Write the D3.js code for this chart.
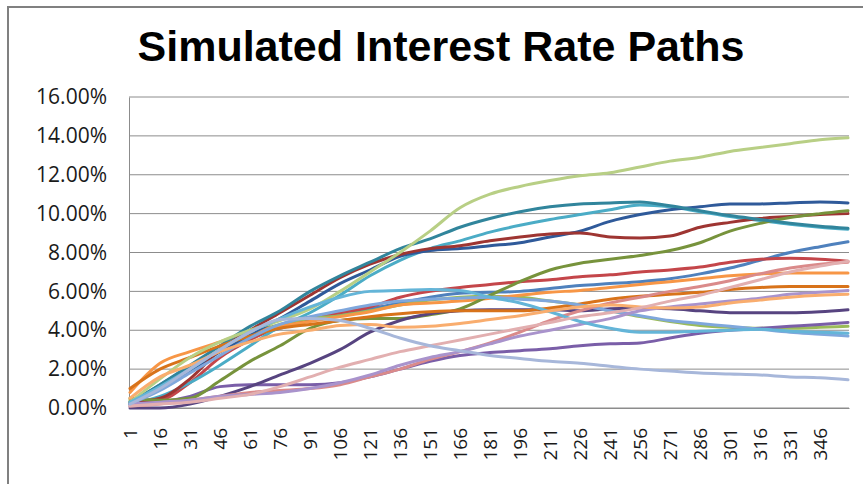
<!DOCTYPE html>
<html>
<head>
<meta charset="utf-8">
<script src="https://cdn.jsdelivr.net/npm/d3@7"></script>
<style>
  body { margin: 0; background: #fff; }
  svg { display: block; }
</style>
</head>
<body>
<svg id="chart" width="863" height="484"></svg>
<script>
const periods = [1, 16, 31, 46, 61, 76, 91, 106, 121, 136, 151, 166, 181, 196, 211, 226, 241, 256, 271, 286, 301, 316, 331, 346, 360];

// rate paths in percent, one value per period above
const lightGreen   = [0.3, 1.5, 2.6, 3.4, 4.0, 4.5, 5.1, 6.0, 7.0, 8.0, 9.1, 10.3, 11.0, 11.4, 11.7, 11.95, 12.1, 12.4, 12.7, 12.9, 13.2, 13.4, 13.6, 13.8, 13.9];
const teal         = [0.3, 1.2, 2.2, 3.2, 4.2, 5.0, 6.0, 6.8, 7.5, 8.2, 8.7, 9.3, 9.75, 10.1, 10.35, 10.5, 10.55, 10.6, 10.4, 10.15, 9.9, 9.7, 9.5, 9.35, 9.25];
const darkRed      = [0.3, 0.5, 1.5, 3.0, 4.0, 4.9, 5.8, 6.7, 7.4, 7.9, 8.2, 8.35, 8.6, 8.8, 8.95, 9.0, 8.8, 8.75, 8.85, 9.3, 9.55, 9.75, 9.85, 9.95, 10.0];
const darkBlue     = [0.2, 1.0, 1.9, 2.9, 3.8, 4.6, 5.5, 6.4, 7.1, 7.8, 8.1, 8.2, 8.35, 8.5, 8.8, 9.1, 9.6, 9.95, 10.2, 10.35, 10.5, 10.5, 10.55, 10.6, 10.55];
const aqua         = [0.2, 0.6, 1.3, 2.2, 3.2, 4.2, 4.9, 5.8, 6.8, 7.6, 8.2, 8.6, 9.05, 9.4, 9.7, 9.95, 10.2, 10.45, 10.35, 10.1, 9.85, 9.65, 9.45, 9.3, 9.2];
const green        = [0.4, 1.0, 2.0, 3.0, 3.8, 4.3, 4.6, 4.75, 5.0, 5.3, 5.55, 5.7, 5.75, 5.7, 5.5, 5.3, 5.0, 4.7, 4.45, 4.25, 4.15, 4.1, 4.1, 4.15, 4.2];
const olive        = [0.5, 0.4, 0.5, 1.4, 2.4, 3.2, 4.1, 4.5, 4.6, 4.6, 4.8, 5.1, 5.8, 6.5, 7.1, 7.45, 7.65, 7.85, 8.1, 8.5, 9.1, 9.5, 9.8, 10.0, 10.15];
const orange       = [0.8, 2.3, 2.9, 3.4, 3.9, 4.2, 4.45, 4.7, 4.95, 5.3, 5.4, 5.5, 5.65, 5.8, 5.95, 6.05, 6.2, 6.35, 6.5, 6.65, 6.8, 6.9, 6.95, 6.95, 6.95];
const darkOrange   = [1.0, 2.0, 2.6, 3.2, 3.7, 4.1, 4.3, 4.5, 4.7, 4.85, 4.95, 5.0, 5.0, 5.0, 5.15, 5.35, 5.6, 5.75, 5.85, 5.95, 6.1, 6.2, 6.25, 6.25, 6.25];
const lightOrange  = [0.5, 1.6, 2.2, 2.9, 3.4, 3.8, 4.0, 4.25, 4.3, 4.15, 4.2, 4.35, 4.55, 4.75, 5.0, 5.2, 5.3, 5.2, 5.15, 5.2, 5.4, 5.55, 5.7, 5.8, 5.85];
const red          = [0.3, 0.4, 1.3, 2.6, 3.5, 4.2, 4.6, 4.9, 5.2, 5.7, 6.0, 6.2, 6.35, 6.5, 6.6, 6.75, 6.85, 7.0, 7.1, 7.25, 7.5, 7.65, 7.7, 7.65, 7.55];
const blue         = [0.2, 1.2, 2.1, 2.9, 3.6, 4.1, 4.5, 4.85, 5.1, 5.4, 5.7, 5.9, 5.95, 6.0, 6.15, 6.3, 6.4, 6.5, 6.65, 6.9, 7.2, 7.6, 8.0, 8.3, 8.55];
const sky          = [0.3, 1.1, 2.0, 3.0, 3.9, 4.6, 5.2, 5.7, 6.0, 6.05, 6.1, 6.05, 5.7, 5.4, 4.95, 4.45, 4.1, 3.9, 3.9, 3.95, 4.0, 4.05, 3.95, 3.9, 3.85];
const lightBlue    = [0.2, 0.9, 1.8, 2.7, 3.6, 4.3, 4.7, 5.0, 5.3, 5.5, 5.6, 5.65, 5.7, 5.6, 5.5, 5.3, 5.0, 4.75, 4.5, 4.35, 4.2, 4.05, 3.9, 3.8, 3.7];
const lavenderBlue = [0.2, 1.0, 2.0, 3.0, 3.9, 4.55, 4.6, 4.5, 4.1, 3.6, 3.2, 2.95, 2.7, 2.55, 2.4, 2.3, 2.15, 2.0, 1.9, 1.8, 1.75, 1.7, 1.6, 1.55, 1.45];
const darkPurple   = [0.0, 0.0, 0.2, 0.6, 1.1, 1.7, 2.3, 3.0, 3.9, 4.5, 4.85, 5.0, 5.05, 5.05, 5.05, 5.0, 5.1, 5.15, 5.1, 5.0, 4.9, 4.9, 4.9, 4.95, 5.05];
const purple       = [0.1, 0.3, 0.6, 1.1, 1.2, 1.2, 1.2, 1.3, 1.6, 2.0, 2.4, 2.7, 2.85, 2.95, 3.05, 3.2, 3.3, 3.35, 3.6, 3.85, 4.0, 4.1, 4.2, 4.3, 4.4];
const lavender     = [0.2, 0.3, 0.4, 0.6, 0.7, 0.8, 1.0, 1.3, 1.7, 2.2, 2.6, 2.9, 3.3, 3.7, 4.0, 4.3, 4.6, 5.0, 5.2, 5.35, 5.5, 5.65, 5.85, 5.95, 6.05];
const salmon       = [0.1, 0.2, 0.4, 0.6, 0.8, 0.9, 1.0, 1.2, 1.6, 2.0, 2.5, 2.9, 3.35, 3.9, 4.5, 5.0, 5.4, 5.7, 6.0, 6.25, 6.55, 6.9, 7.2, 7.4, 7.5];
const pink         = [0.1, 0.2, 0.3, 0.5, 0.7, 1.1, 1.6, 2.1, 2.5, 2.9, 3.2, 3.5, 3.8, 4.1, 4.4, 4.7, 4.9, 5.15, 5.5, 5.8, 6.2, 6.6, 7.0, 7.3, 7.55];

const xTicks = [1, 16, 31, 46, 61, 76, 91, 106, 121, 136, 151, 166, 181, 196, 211, 226, 241, 256, 271, 286, 301, 316, 331, 346];
const yTicks = [0, 2, 4, 6, 8, 10, 12, 14, 16];

const series = [
  { values: blue,         color: "#4f81bd" },
  { values: red,          color: "#c4464a" },
  { values: green,        color: "#9bbb59" },
  { values: purple,       color: "#7a5ea8" },
  { values: aqua,         color: "#4bacc6" },
  { values: orange,       color: "#f79646" },
  { values: darkBlue,     color: "#2f5a9a" },
  { values: darkRed,      color: "#9e3532" },
  { values: olive,        color: "#77933c" },
  { values: darkPurple,   color: "#574480" },
  { values: teal,         color: "#31859c" },
  { values: darkOrange,   color: "#d8731a" },
  { values: lightBlue,    color: "#7fa7dc" },
  { values: salmon,       color: "#da8a8a" },
  { values: lightGreen,   color: "#b8cf85" },
  { values: lavender,     color: "#a993cc" },
  { values: sky,          color: "#64b5d8" },
  { values: lightOrange,  color: "#f9ad6e" },
  { values: pink,         color: "#e2afb0" },
  { values: lavenderBlue, color: "#a7b7da" }
];

const svg = d3.select("#chart");
const margin = { left: 129, right: 14, top: 97, bottom: 76 };
const W = 863, H = 484;

// outer frame
svg.append("rect")
  .attr("x", 8).attr("y", 7)
  .attr("width", 900).attr("height", 500)
  .attr("fill", "#fff")
  .attr("stroke", "#808080")
  .attr("stroke-width", 2);

svg.append("text")
  .attr("x", 441).attr("y", 61)
  .attr("text-anchor", "middle")
  .attr("font-family", "'Liberation Sans', Arial, sans-serif")
  .attr("font-weight", "bold")
  .attr("font-size", "43px")
  .attr("fill", "#000")
  .text("Simulated Interest Rate Paths");

const x = d3.scaleLinear()
  .domain([0.5, 360.5])
  .range([margin.left, W - margin.right]);

const y = d3.scaleLinear()
  .domain([0, 16])
  .range([H - margin.bottom, margin.top]);

// gridlines
svg.append("g")
  .selectAll("line")
  .data(yTicks)
  .join("line")
  .attr("x1", margin.left).attr("x2", W - margin.right)
  .attr("y1", d => y(d)).attr("y2", d => y(d))
  .attr("stroke", "#8c8c8c")
  .attr("stroke-width", 1);

// y axis
const yAxis = svg.append("g")
  .attr("transform", `translate(${margin.left},0)`)
  .call(d3.axisLeft(y).tickValues(yTicks).tickSize(0).tickPadding(22)
    .tickFormat(d => d.toFixed(2) + "%"));
yAxis.select(".domain").attr("stroke", "#8c8c8c");
yAxis.selectAll("text")
  .attr("font-family", "'Open Sans', sans-serif")
  .attr("font-size", "21px")
  .attr("fill", "#1a1a1a");

// x axis
const xAxis = svg.append("g")
  .attr("transform", `translate(0,${H - margin.bottom})`)
  .call(d3.axisBottom(x).tickValues(xTicks).tickSize(0).tickFormat(d => d));
xAxis.select(".domain").attr("stroke", "#8c8c8c");
xAxis.selectAll("text")
  .attr("font-family", "'Open Sans', sans-serif")
  .attr("font-size", "19px")
  .attr("fill", "#1a1a1a")
  .attr("text-anchor", "end")
  .attr("transform", "rotate(-90)")
  .attr("x", -20)
  .attr("y", 0)
  .attr("dy", "0.35em");

// paths
const line = d3.line()
  .x((d, i) => x(periods[i]))
  .y(d => y(d))
  .curve(d3.curveMonotoneX);

svg.append("g")
  .selectAll("path")
  .data(series)
  .join("path")
  .attr("d", d => line(d.values))
  .attr("fill", "none")
  .attr("stroke", d => d.color)
  .attr("stroke-width", 3)
  .attr("stroke-linejoin", "round")
  .attr("stroke-linecap", "round");
</script>
</body>
</html>
